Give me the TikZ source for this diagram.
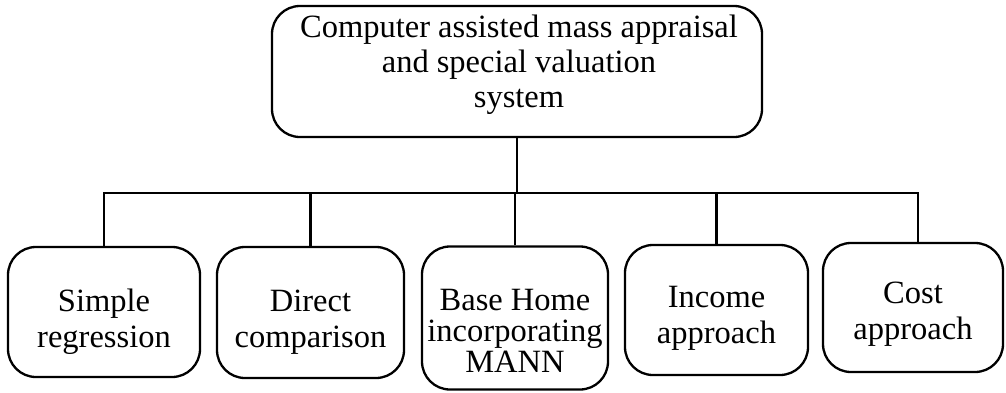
\documentclass[tikz,border=0pt]{standalone}
\usepackage{fontspec}
\setmainfont{Liberation Serif}
\begin{document}
\begin{tikzpicture}[x=1pt,y=-1pt,
  box/.style={draw, line width=2.3pt, rounded corners=28pt, inner sep=0pt},
  txt/.style={align=center, inner sep=0pt, font=\fontsize{32.5}{36}\selectfont},
  link/.style={line width=2.2pt}]
\useasboundingbox (0,0) rectangle (1006,392);
% top of the hierarchy
\node[box, minimum width=490pt, minimum height=131pt] (root) at (517,71.5) {};
\node[txt, font=\fontsize{32.5}{35}\selectfont] (roottxt) at (519,65)
  {Computer assisted mass appraisal\\and special valuation\\system};
% methods
\node[box, minimum width=192pt, minimum height=130pt] (b1) at (104,312) {};
\node[txt] (t1) at (104,322) {Simple\\regression};
\node[box, minimum width=187pt, minimum height=131pt] (b2) at (310.5,312.5) {};
\node[txt] (t2) at (310.5,322) {Direct\\comparison};
\node[box, minimum width=186pt, minimum height=143pt] (b3) at (515,318) {};
\node[txt, font=\fontsize{32.5}{31}\selectfont] (t3) at (515,331)
  {Base Home\\incorporating\\MANN};
\node[box, minimum width=183pt, minimum height=130pt] (b4) at (716.5,310) {};
\node[txt] (t4) at (716.5,318) {Income\\approach};
\node[box, minimum width=180pt, minimum height=129pt] (b5) at (913,307.5) {};
\node[txt] (t5) at (913,314.5) {Cost\\approach};
% connecting tree
\coordinate (bus) at (517,193);
\coordinate (s5) at (918,0);
\draw[link] (root.south) -- (root.south |- bus);
\draw[link] (b1.north) -- (b1.north |- bus) -- (s5 |- bus) -- (s5 |- b5.north);
\draw[link] (b2.north) -- (b2.north |- bus);
\draw[link] (b3.north) -- (b3.north |- bus);
\draw[link] (b4.north) -- (b4.north |- bus);
\end{tikzpicture}
\end{document}
